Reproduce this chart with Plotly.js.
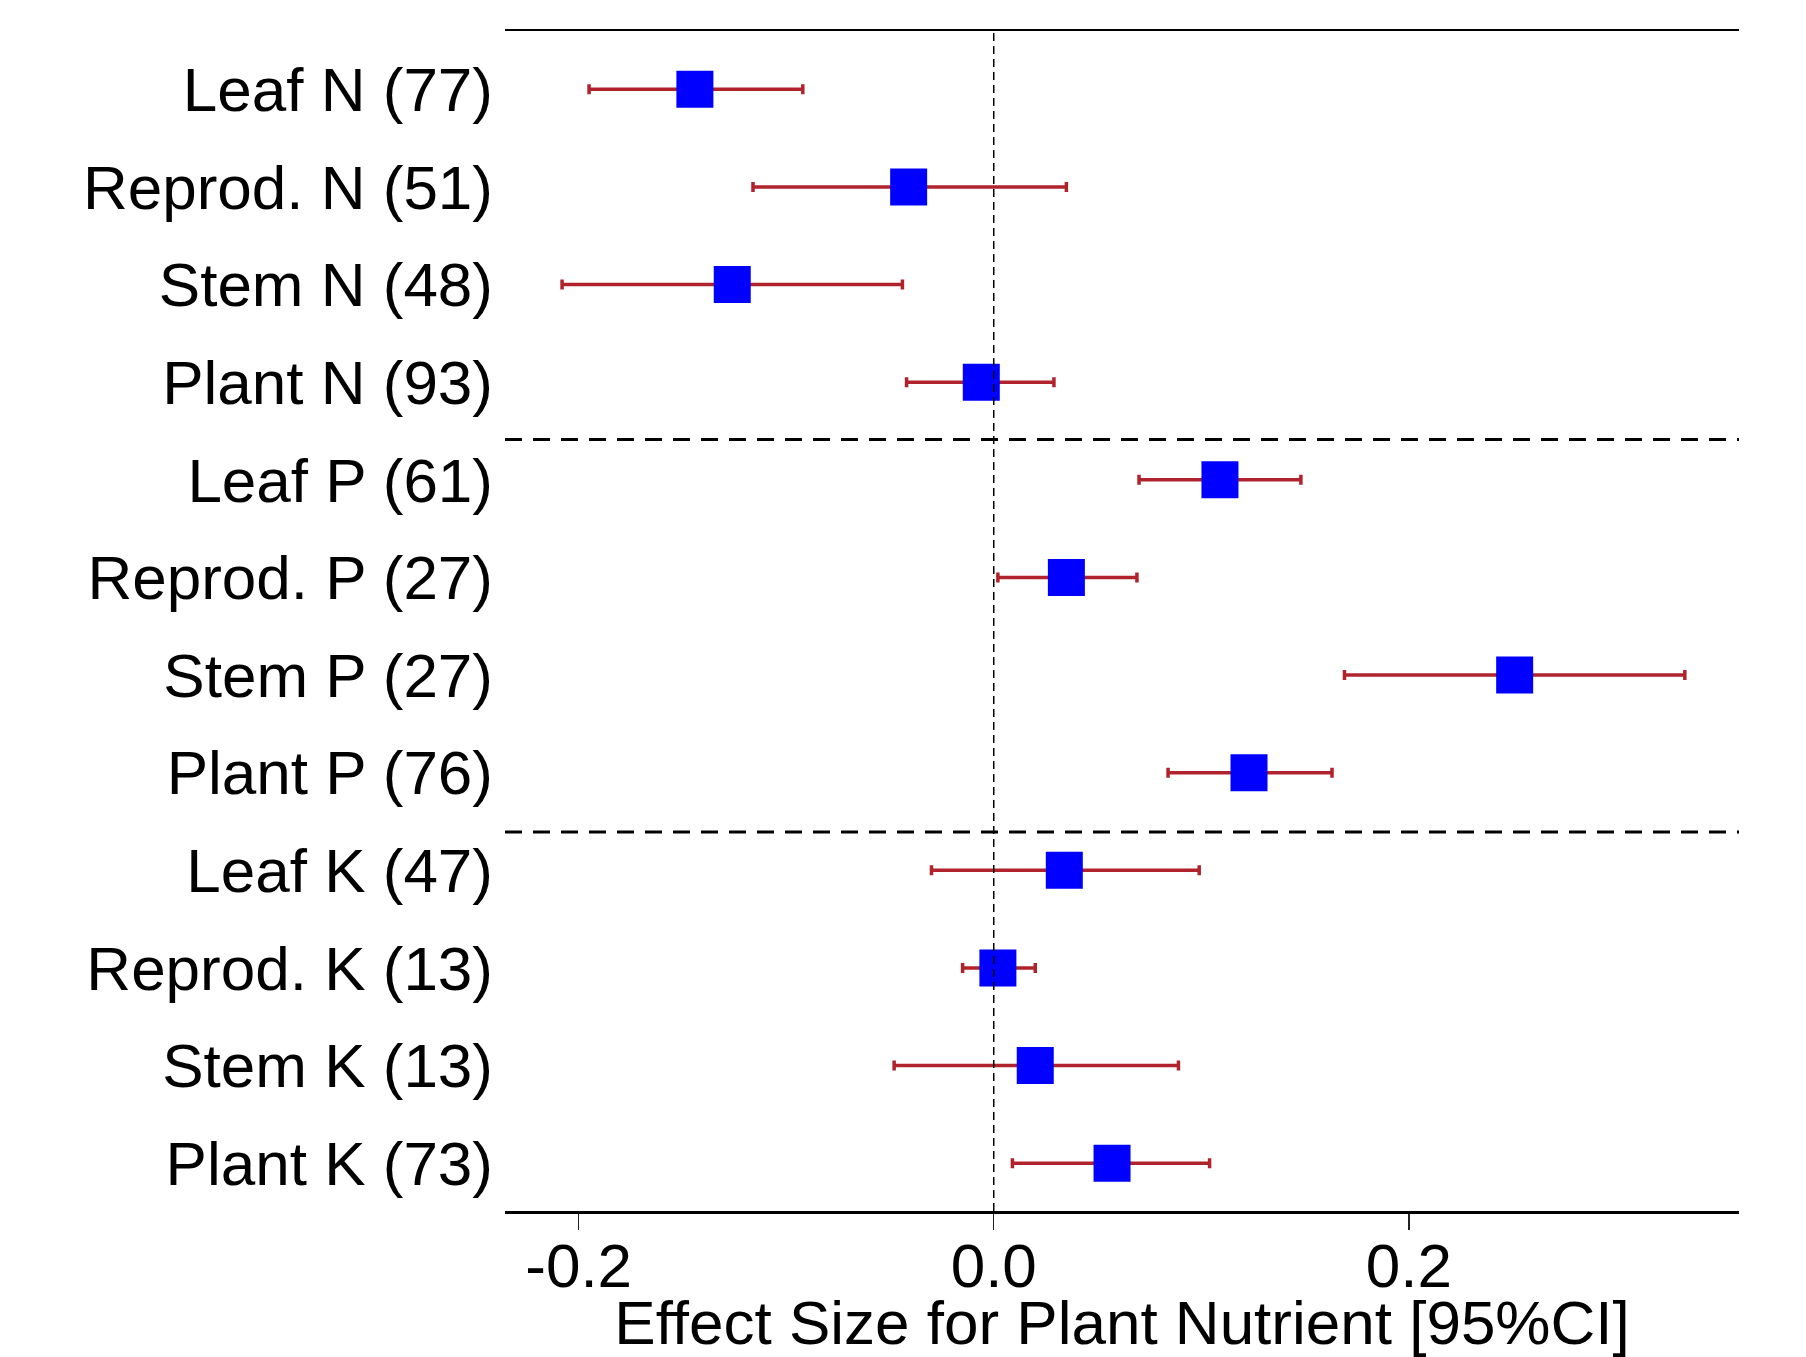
<!DOCTYPE html>
<html><head><meta charset="utf-8">
<script src="https://cdn.plot.ly/plotly-3.0.1.min.js"></script>
<style>html,body{margin:0;padding:0;background:#fff}</style>
</head><body><div id="chart" style="width:1806px;height:1357px"></div>
<script>
const parts = ["Leaf N","Reprod. N","Stem N","Plant N","Leaf P","Reprod. P","Stem P","Plant P","Leaf K","Reprod. K","Stem K","Plant K"];
const counts = [77,51,48,93,61,27,27,76,47,13,13,73];
const effect = [-0.144,-0.041,-0.126,-0.006,0.109,0.035,0.251,0.123,0.034,0.002,0.020,0.057];
const ciLow = [-0.195,-0.116,-0.208,-0.042,0.070,0.002,0.169,0.084,-0.030,-0.015,-0.048,0.009];
const ciHigh = [-0.092,0.035,-0.044,0.029,0.148,0.069,0.333,0.163,0.099,0.020,0.089,0.104];
const xTicks = [-0.2,0.0,0.2];
const xTickText = ["-0.2","0.0","0.2"];
const groupBreaks = [3.586, 7.607];

const labels = parts.map((p,i)=>p+" ("+counts[i]+")");
const errPlus = ciHigh.map((h,i)=>h-effect[i]);
const errMinus = ciLow.map((l,i)=>effect[i]-l);
const FONT = "Liberation Sans, Arial, sans-serif";

const trace = {
  type:"scatter", mode:"markers",
  x: effect, y: labels,
  marker:{symbol:"square", size:37, color:"#0000FF", line:{width:0}},
  error_x:{type:"data", symmetric:false, array:errPlus, arrayminus:errMinus,
           color:"#B0232D", thickness:3.5, width:5},
  hoverinfo:"x+y", showlegend:false
};

const shapes = [
  {type:"line", xref:"paper", yref:"paper", x0:0, x1:1, y0:1, y1:1, line:{color:"#000", width:2}},
  {type:"line", xref:"x", yref:"paper", x0:0, x1:0, y0:0, y1:1, line:{color:"#000", width:1.5, dash:"8px,5px"}}
];
groupBreaks.forEach(b=>shapes.push({type:"line", xref:"paper", yref:"y", x0:0, x1:1, y0:b, y1:b,
  line:{color:"#000", width:3, dash:"17px,11px"}}));

const layout = {
  width:1806, height:1357,
  margin:{l:505, r:67, t:30, b:146},
  paper_bgcolor:"#fff", plot_bgcolor:"#fff",
  font:{family:FONT, size:62, color:"#000"},
  xaxis:{range:[-0.2355,0.3591], tickvals:xTicks, ticktext:xTickText,
    ticks:"outside", ticklen:16, tickwidth:1.5, tickcolor:"#222",
    ticklabelstandoff:-17,
    showline:true, linewidth:3, linecolor:"#000", showgrid:false, zeroline:false,
    tickfont:{family:FONT, size:62, color:"#000"},
    title:{text:"Effect Size for Plant Nutrient [95%CI]", font:{family:FONT, size:62, color:"#000"}, standoff:0},
    automargin:false},
  yaxis:{type:"category", categoryorder:"array", categoryarray:labels,
    range:[11.49,-0.608], showgrid:false, zeroline:false, showline:false,
    ticks:"", ticklabelstandoff:11,
    tickfont:{family:FONT, size:62, color:"#000"}, automargin:false},
  shapes:shapes
};
Plotly.newPlot("chart",[trace],layout,{displayModeBar:false, staticPlot:true});
</script>
</body></html>
